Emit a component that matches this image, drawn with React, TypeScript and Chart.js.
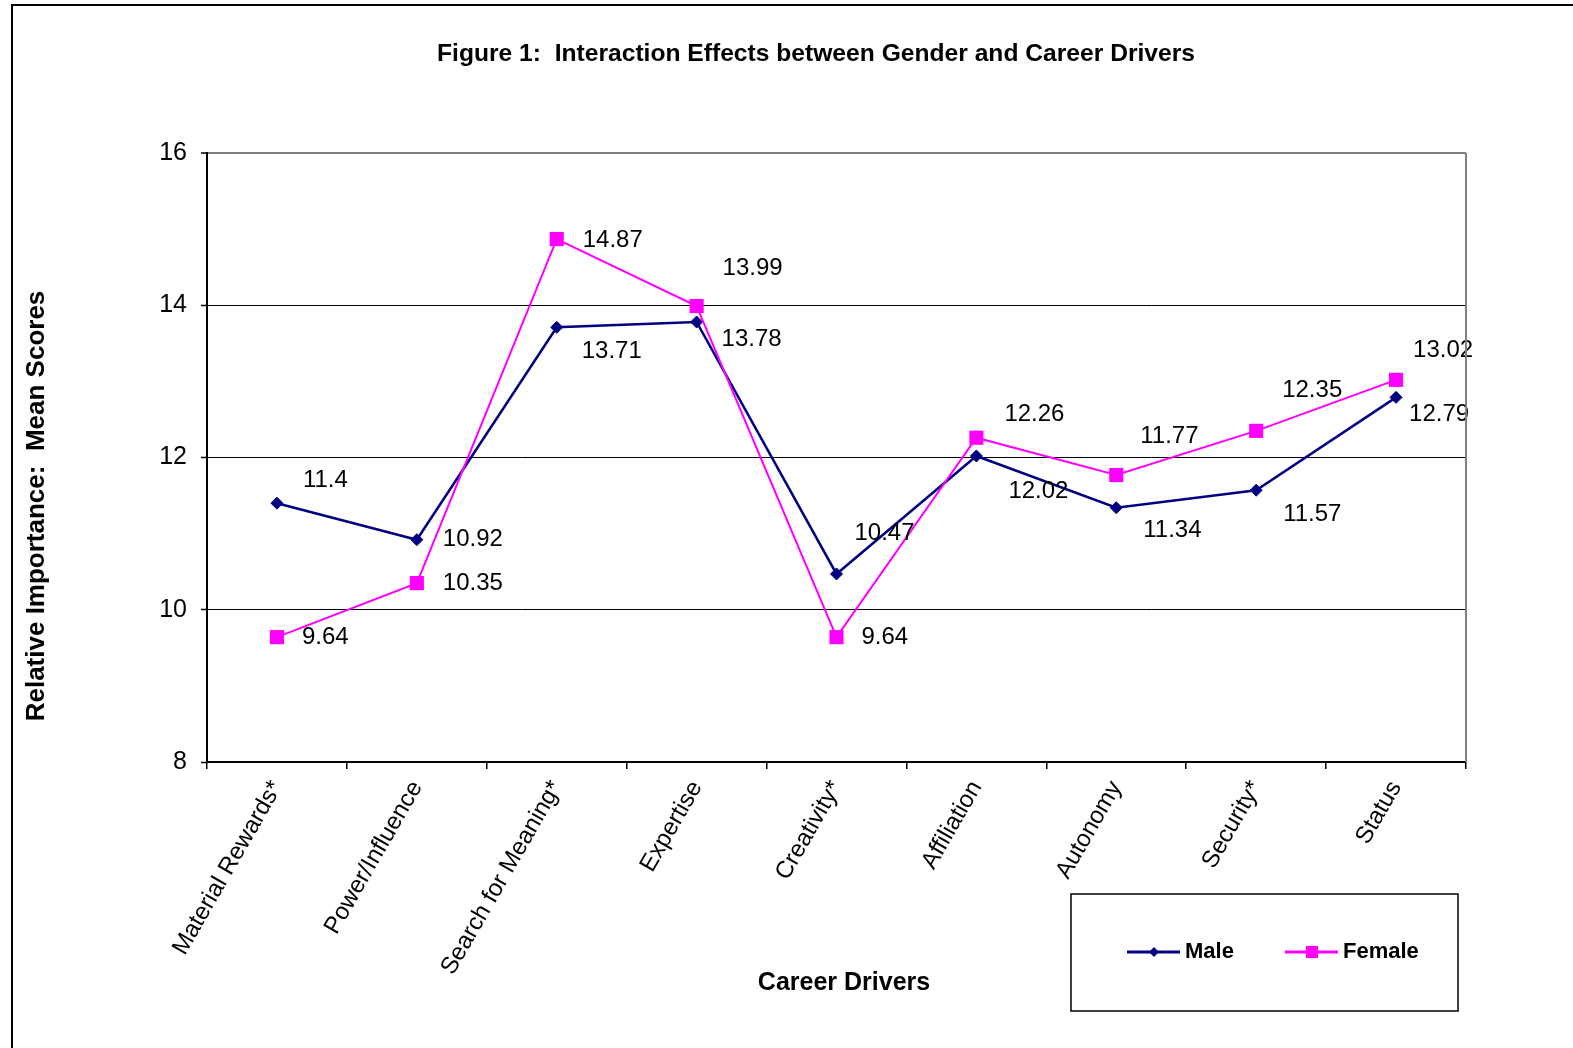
import { useEffect, useRef } from 'react';
import { Chart, registerables } from 'chart.js';

Chart.register(...registerables);

const chartTitle = 'Figure 1:  Interaction Effects between Gender and Career Drivers';
const yAxisTitle = 'Relative Importance:  Mean Scores';
const xAxisTitle = 'Career Drivers';

const categories = [
  'Material Rewards*',
  'Power/Influence',
  'Search for Meaning*',
  'Expertise',
  'Creativity*',
  'Affiliation',
  'Autonomy',
  'Security*',
  'Status',
];

const maleScores = [11.4, 10.92, 13.71, 13.78, 10.47, 12.02, 11.34, 11.57, 12.79];
const femaleScores = [9.64, 10.35, 14.87, 13.99, 9.64, 12.26, 11.77, 12.35, 13.02];

const yMin = 8;
const yMax = 16;
const yStep = 2;

// label placement offsets in px (layout only)
const maleLabelOffsets: [number, number][] = [
  [26, -23], [26, 0], [25, 24], [25, 17], [18, -41], [32, 35], [27, 23], [27, 24], [13, 17],
];
const femaleLabelOffsets: [number, number][] = [
  [25, 0], [26, 0], [26, 1], [26, -38], [25, 0], [28, -23], [24, -39], [26, -40], [17, -29],
];

const FONT = '"Liberation Sans", Arial, sans-serif';
const MALE_COLOR = '#000080';
const FEMALE_COLOR = '#FF00FF';

const decorPlugin = {
  id: 'decor',
  beforeDraw(chart: any) {
    const ctx = chart.ctx;
    ctx.save();
    ctx.fillStyle = '#ffffff';
    ctx.fillRect(0, 0, chart.width, chart.height);
    ctx.restore();
  },
  afterDatasetsDraw(chart: any) {
    const ctx = chart.ctx;
    ctx.save();
    ctx.font = `24px ${FONT}`;
    ctx.fillStyle = '#000';
    ctx.textAlign = 'left';
    ctx.textBaseline = 'middle';
    const sets: [number, [number, number][]][] = [
      [0, maleLabelOffsets],
      [1, femaleLabelOffsets],
    ];
    sets.forEach(([di, offs]) => {
      const meta = chart.getDatasetMeta(di);
      const data = chart.data.datasets[di].data as number[];
      meta.data.forEach((pt: any, i: number) => {
        const [dx, dy] = offs[i];
        ctx.fillText(String(data[i]), pt.x + dx, pt.y + dy);
      });
    });
    ctx.restore();
  },
  afterDraw(chart: any) {
    const ctx = chart.ctx;
    const ca = chart.chartArea;
    ctx.save();
    // outer frame
    ctx.strokeStyle = '#000';
    ctx.lineWidth = 2;
    ctx.beginPath();
    ctx.moveTo(12, chart.height + 5);
    ctx.lineTo(12, 5);
    ctx.lineTo(chart.width + 5, 5);
    ctx.stroke();

    // plot right border (gray)
    ctx.strokeStyle = '#808080';
    ctx.lineWidth = 2;
    ctx.beginPath();
    ctx.moveTo(ca.right, ca.top);
    ctx.lineTo(ca.right, ca.bottom);
    ctx.stroke();

    // title
    ctx.fillStyle = '#000';
    ctx.font = `bold 24px ${FONT}`;
    ctx.textAlign = 'center';
    ctx.textBaseline = 'middle';
    const tw = ctx.measureText(chartTitle).width;
    ctx.save();
    ctx.translate(816, 54);
    ctx.scale(758 / tw, 1);
    ctx.fillText(chartTitle, 0, 0);
    ctx.restore();

    // y axis title
    ctx.save();
    ctx.translate(37, 506);
    ctx.rotate(-Math.PI / 2);
    ctx.font = `bold 26px ${FONT}`;
    ctx.fillText(yAxisTitle, 0, 0);
    ctx.restore();

    // x axis title
    ctx.font = `bold 25px ${FONT}`;
    ctx.fillText(xAxisTitle, 844, 983);

    // legend
    ctx.strokeStyle = '#000';
    ctx.lineWidth = 1.5;
    ctx.strokeRect(1071, 894, 387, 117);
    const ly = 952;
    const items = [
      { x: 1127, label: chart.data.datasets[0].label, color: MALE_COLOR, style: 'rectRot', r: 5 },
      { x: 1285, label: chart.data.datasets[1].label, color: FEMALE_COLOR, style: 'rect', r: 8 },
    ];
    items.forEach((it) => {
      ctx.strokeStyle = it.color;
      ctx.lineWidth = 3;
      ctx.beginPath();
      ctx.moveTo(it.x, ly);
      ctx.lineTo(it.x + 53, ly);
      ctx.stroke();
      ctx.fillStyle = it.color;
      if (it.style === 'rect') {
        ctx.fillRect(it.x + 27 - 6, ly - 6, 12, 12);
      } else {
        ctx.beginPath();
        ctx.moveTo(it.x + 27, ly - it.r);
        ctx.lineTo(it.x + 27 + it.r, ly);
        ctx.lineTo(it.x + 27, ly + it.r);
        ctx.lineTo(it.x + 27 - it.r, ly);
        ctx.closePath();
        ctx.fill();
      }
      ctx.fillStyle = '#000';
      ctx.font = `bold 22px ${FONT}`;
      ctx.textAlign = 'left';
      ctx.textBaseline = 'middle';
      ctx.fillText(it.label, it.x + 58, ly);
    });
    ctx.restore();
  },
};

export default function App() {
  const ref = useRef<HTMLCanvasElement | null>(null);

  useEffect(() => {
    document.body.style.margin = '0';
    document.body.style.overflow = 'hidden';
    document.documentElement.style.overflow = 'hidden';
    const canvas = ref.current;
    if (!canvas) return;
    const chart = new Chart(canvas, {
      type: 'line',
      data: {
        labels: categories,
        datasets: [
          {
            label: 'Male',
            data: maleScores,
            borderColor: MALE_COLOR,
            backgroundColor: MALE_COLOR,
            borderWidth: 2.5,
            pointStyle: 'rectRot',
            pointRadius: 6,
            pointBorderWidth: 1,
            pointBackgroundColor: MALE_COLOR,
            pointBorderColor: MALE_COLOR,
            tension: 0,
            order: 2,
          },
          {
            label: 'Female',
            data: femaleScores,
            borderColor: FEMALE_COLOR,
            backgroundColor: FEMALE_COLOR,
            borderWidth: 2,
            pointStyle: 'rect',
            pointRadius: 10,
            pointBorderWidth: 0,
            pointBackgroundColor: FEMALE_COLOR,
            pointBorderColor: FEMALE_COLOR,
            tension: 0,
            order: 1,
          },
        ],
      },
      options: {
        responsive: false,
        animation: false,
        devicePixelRatio: 1,
        layout: { padding: { left: 0, top: 153, right: 107, bottom: 0 } },
        plugins: {
          legend: { display: false },
          title: { display: false },
          tooltip: { enabled: false },
        },
        scales: {
          x: {
            type: 'category',
            offset: true,
            grid: {
              display: true,
              offset: true,
              drawOnChartArea: false,
              drawTicks: true,
              tickLength: 7,
              color: '#000',
              lineWidth: 1.5,
            },
            border: { display: true, color: '#000', width: 2 },
            ticks: {
              color: '#000',
              font: { family: FONT, size: 24 },
              minRotation: 60,
              maxRotation: 60,
              autoSkip: false,
              padding: 7,
            },
            afterFit(scale: any) {
              scale.height = 286;
            },
          },
          y: {
            min: yMin,
            max: yMax,
            ticks: {
              stepSize: yStep,
              color: '#000',
              font: { family: FONT, size: 25 },
              padding: 14,
            },
            grid: {
              color: (c: any) => (c.tick && c.tick.value === yMax ? '#808080' : '#000'),
              lineWidth: (c: any) => (c.tick && c.tick.value === yMax ? 2 : 1),
              tickColor: '#000',
              tickWidth: 1.5,
              tickLength: 6,
              drawTicks: true,
            },
            border: { display: true, color: '#000', width: 2 },
            afterFit(scale: any) {
              scale.width = 207;
            },
          },
        },
      },
      plugins: [decorPlugin],
    });
    return () => chart.destroy();
  }, []);

  return (
    <canvas
      ref={ref}
      width={1573}
      height={1048}
      style={{ display: 'block', width: '1573px', height: '1048px' }}
    />
  );
}
